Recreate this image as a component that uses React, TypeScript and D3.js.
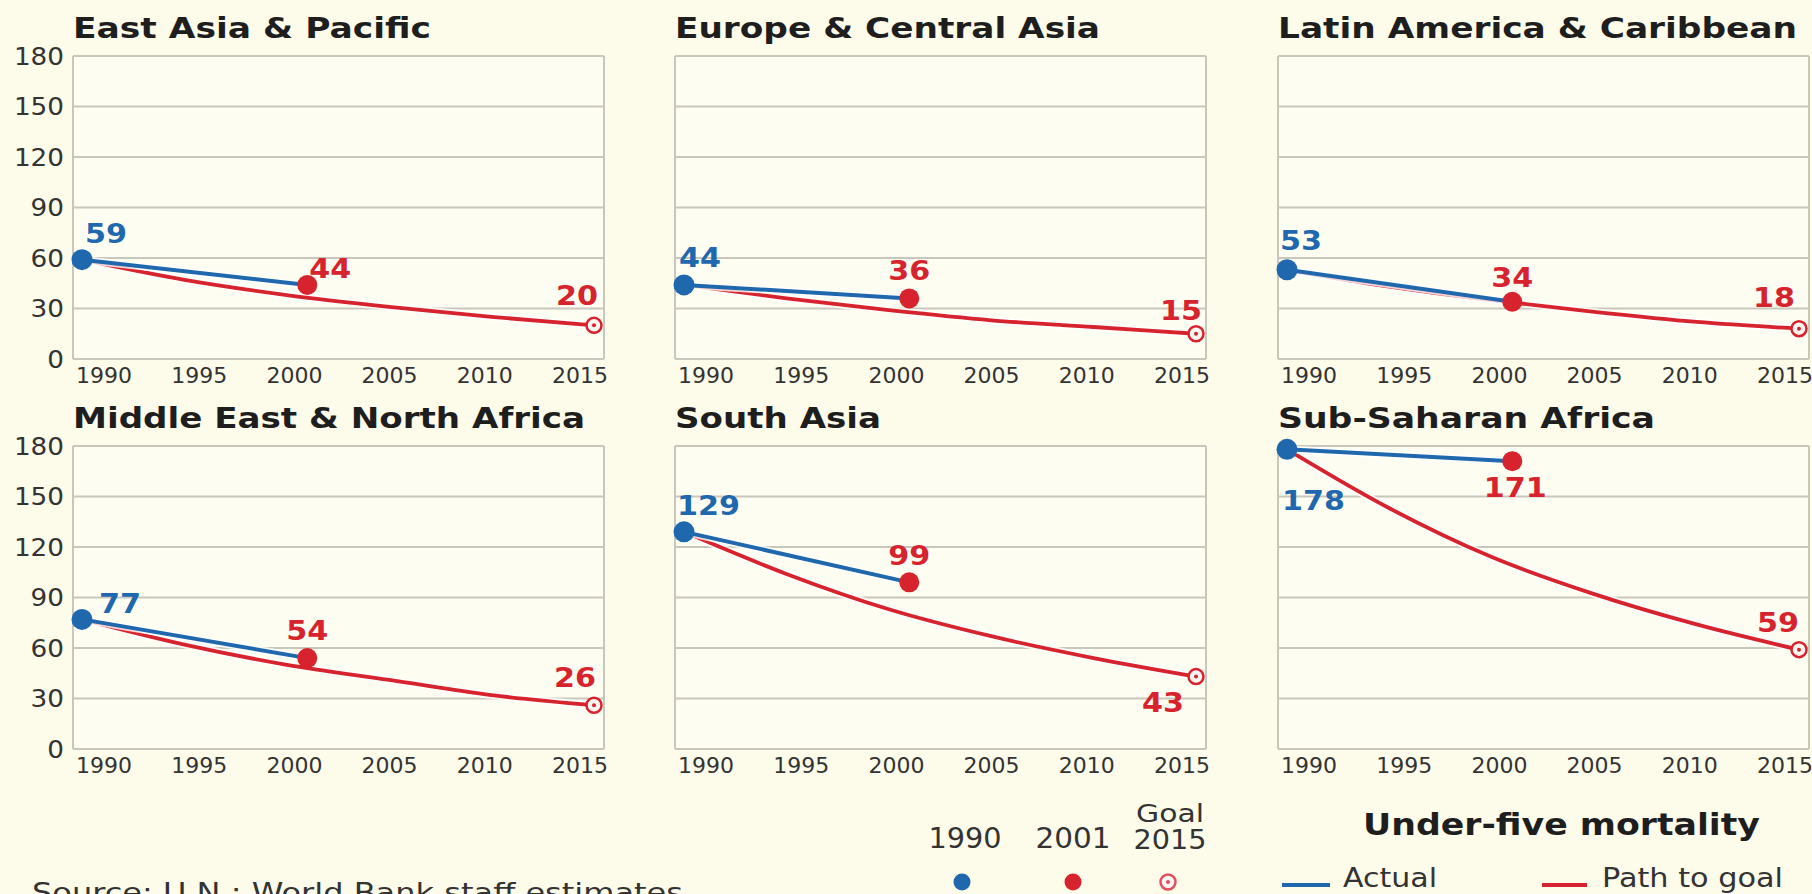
import React from "react";
import * as d3 from "d3";

const W = 1812;
const H = 894;

const regions = [
  "East Asia & Pacific",
  "Europe & Central Asia",
  "Latin America & Caribbean",
  "Middle East & North Africa",
  "South Asia",
  "Sub-Saharan Africa",
];
const actual1990 = [59, 44, 53, 77, 129, 178];
const actual2001 = [44, 36, 34, 54, 99, 171];
const goal2015 = [20, 15, 18, 26, 43, 59];

const pathYears = [1990, 1995, 2000, 2005, 2010, 2015];
const pathEastAsia = [59, 47, 38, 31, 25, 20];
const pathEurope = [44, 36, 29, 23, 19, 15];
const pathLatin = [53, 43, 35, 28, 22, 18];
const pathMiddleEast = [77, 62, 50, 41, 32, 26];
const pathSouthAsia = [129, 104, 83, 67, 54, 43];
const pathSubSaharan = [178, 143, 114, 92, 74, 59];
const paths = [pathEastAsia, pathEurope, pathLatin, pathMiddleEast, pathSouthAsia, pathSubSaharan];

const yTicks = [0, 30, 60, 90, 120, 150, 180];
const xTicks = [1990, 1995, 2000, 2005, 2010, 2015];

// layout (not data)
const panelLefts = [73, 675, 1278];
const panelW = 531;
const rowTops = [56, 446];
const plotH = 303;
const titleWidths = [358, 425, 519, 512, 206, 377];

// label placement per panel: [1990, 2001, 2015] -> [anchor, dx, dy]
const labelPlace: [string, number, number][][] = [
  [["start", 3, -17], ["start", 2, -7], ["end", 4, -20]],
  [["start", -5, -18], ["middle", 0, -18], ["end", 6, -14]],
  [["start", -7, -20], ["middle", 0, -15], ["end", -4, -22]],
  [["start", 17, -6], ["middle", 0, -18], ["end", 2, -18]],
  [["start", -7, -17], ["middle", 0, -17], ["end", -12, 35]],
  [["start", -5, 61], ["middle", 3, 36], ["end", 0, -18]],
];

const BG = "#fdfbea";
const PLOT_BG = "#fefdf1";
const GRID = "#c9c7bb";
const BLUE = "#1f68ad";
const RED = "#d7232d";
const TEXT = "#1e1e1e";
const FONT = "'DejaVu Sans', Verdana, sans-serif";

function Panel({ i }: { i: number }) {
  const col = i % 3;
  const row = Math.floor(i / 3);
  const left = panelLefts[col];
  const top = rowTops[row];
  const x = d3.scaleLinear().domain([1990, 2015]).range([left + 9, left + panelW - 10]);
  const y = d3.scaleLinear().domain([0, 180]).range([top + plotH, top]);
  const tickX = d3.scaleLinear().domain([1990, 2015]).range([left + 31, left + 507]);

  const pathLine = d3
    .line<number>()
    .x((_, k) => x(pathYears[k]))
    .y((d) => y(d))
    .curve(d3.curveMonotoneX);
  const actualYears = [1990, 2001];
  const actualVals = [actual1990[i], actual2001[i]];
  const actualLine = d3
    .line<number>()
    .x((_, k) => x(actualYears[k]))
    .y((d) => y(d));

  const pts = [
    { yr: 1990, v: actual1990[i], c: BLUE },
    { yr: 2001, v: actual2001[i], c: RED },
    { yr: 2015, v: goal2015[i], c: RED },
  ];

  return (
    <g>
      <text
        x={left}
        y={top - 18}
        fontFamily={FONT}
        fontWeight="bold"
        fontSize={29}
        fill={TEXT}
        textLength={titleWidths[i]}
        lengthAdjust="spacingAndGlyphs"
      >
        {regions[i]}
      </text>
      <rect x={left} y={top} width={panelW} height={plotH} fill={PLOT_BG} />
      {yTicks.map((t) => (
        <line key={t} x1={left} x2={left + panelW} y1={y(t)} y2={y(t)} stroke={GRID} strokeWidth={2} />
      ))}
      <line x1={left} x2={left} y1={top} y2={top + plotH} stroke={GRID} strokeWidth={2} />
      <line x1={left + panelW} x2={left + panelW} y1={top} y2={top + plotH} stroke={GRID} strokeWidth={2} />
      {col === 0 &&
        yTicks.map((t) => (
          <text
            key={t}
            x={left - 9}
            y={y(t)}
            dy="0.36em"
            textAnchor="end"
            fontFamily={FONT}
            fontSize={24}
            fill="#333"
            textLength={16.7 * String(t).length}
            lengthAdjust="spacingAndGlyphs"
          >
            {t}
          </text>
        ))}
      {xTicks.map((t) => (
        <text
          key={t}
          x={tickX(t)}
          y={top + plotH + 24}
          textAnchor="middle"
          fontFamily={FONT}
          fontSize={22}
          fill="#333"
        >
          {t}
        </text>
      ))}
      {/* path to goal */}
      <path d={pathLine(paths[i]) || ""} fill="none" stroke="#fff" strokeOpacity={0.8} strokeWidth={7.5} strokeLinecap="round" />
      <path d={pathLine(paths[i]) || ""} fill="none" stroke={RED} strokeWidth={3.8} strokeLinecap="round" />
      {/* actual */}
      <path d={actualLine(actualVals) || ""} fill="none" stroke="#fff" strokeOpacity={0.8} strokeWidth={7.5} strokeLinecap="round" />
      <path d={actualLine(actualVals) || ""} fill="none" stroke={BLUE} strokeWidth={4} strokeLinecap="round" />
      {/* markers */}
      <circle cx={x(1990)} cy={y(actual1990[i])} r={10.5} fill={BLUE} />
      <circle cx={x(2001)} cy={y(actual2001[i])} r={10} fill={RED} />
      <circle cx={x(2015)} cy={y(goal2015[i])} r={7.5} fill="#fff6f2" stroke={RED} strokeWidth={2.5} />
      <circle cx={x(2015)} cy={y(goal2015[i])} r={2} fill={RED} />
      {pts.map((p, k) => {
        const [anchor, dx, dy] = labelPlace[i][k];
        const s = String(p.v);
        return (
          <text
            key={k}
            x={x(p.yr) + dx}
            y={y(p.v) + dy}
            textAnchor={anchor as any}
            fontFamily={FONT}
            fontWeight="bold"
            fontSize={27}
            fill={p.c}
            textLength={21 * s.length}
            lengthAdjust="spacingAndGlyphs"
          >
            {s}
          </text>
        );
      })}
    </g>
  );
}

export default function App() {
  return (
    <svg
      width={W}
      height={H}
      viewBox={`0 0 ${W} ${H}`}
      style={{ position: "absolute", left: 0, top: 0, display: "block" }}
    >
      <rect x={0} y={0} width={W} height={H} fill={BG} />
      {regions.map((_, i) => (
        <Panel key={i} i={i} />
      ))}
      {/* legend: markers */}
      <text x={965} y={848} textAnchor="middle" fontFamily={FONT} fontSize={28} fill="#333" textLength={73} lengthAdjust="spacingAndGlyphs">1990</text>
      <text x={1073} y={848} textAnchor="middle" fontFamily={FONT} fontSize={28} fill="#333" textLength={75} lengthAdjust="spacingAndGlyphs">2001</text>
      <text x={1170} y={822} textAnchor="middle" fontFamily={FONT} fontSize={25} fill="#333" textLength={68} lengthAdjust="spacingAndGlyphs">Goal</text>
      <text x={1170} y={849} textAnchor="middle" fontFamily={FONT} fontSize={27} fill="#333" textLength={73} lengthAdjust="spacingAndGlyphs">2015</text>
      <circle cx={962} cy={882} r={8.5} fill={BLUE} />
      <circle cx={1073} cy={882} r={8.5} fill={RED} />
      <circle cx={1168} cy={882} r={7.5} fill="#fff6f2" stroke="#e0505e" strokeWidth={2.5} />
      <circle cx={1168} cy={882} r={2} fill="#e0505e" />
      {/* legend: lines */}
      <text x={1363} y={835} fontFamily={FONT} fontWeight="bold" fontSize={30} fill={TEXT} textLength={397} lengthAdjust="spacingAndGlyphs">Under-five mortality</text>
      <line x1={1282} x2={1330} y1={885} y2={885} stroke={BLUE} strokeWidth={4} />
      <text x={1343} y={887} fontFamily={FONT} fontSize={27} fill="#333" textLength={94} lengthAdjust="spacingAndGlyphs">Actual</text>
      <line x1={1542} x2={1587} y1={885} y2={885} stroke={RED} strokeWidth={4} />
      <text x={1602} y={887} fontFamily={FONT} fontSize={27} fill="#333" textLength={181} lengthAdjust="spacingAndGlyphs">Path to goal</text>
      {/* source */}
      <text x={32} y={902} fontFamily={FONT} fontSize={26} fill="#333" textLength={651} lengthAdjust="spacingAndGlyphs">Source: U.N.; World Bank staff estimates</text>
    </svg>
  );
}
